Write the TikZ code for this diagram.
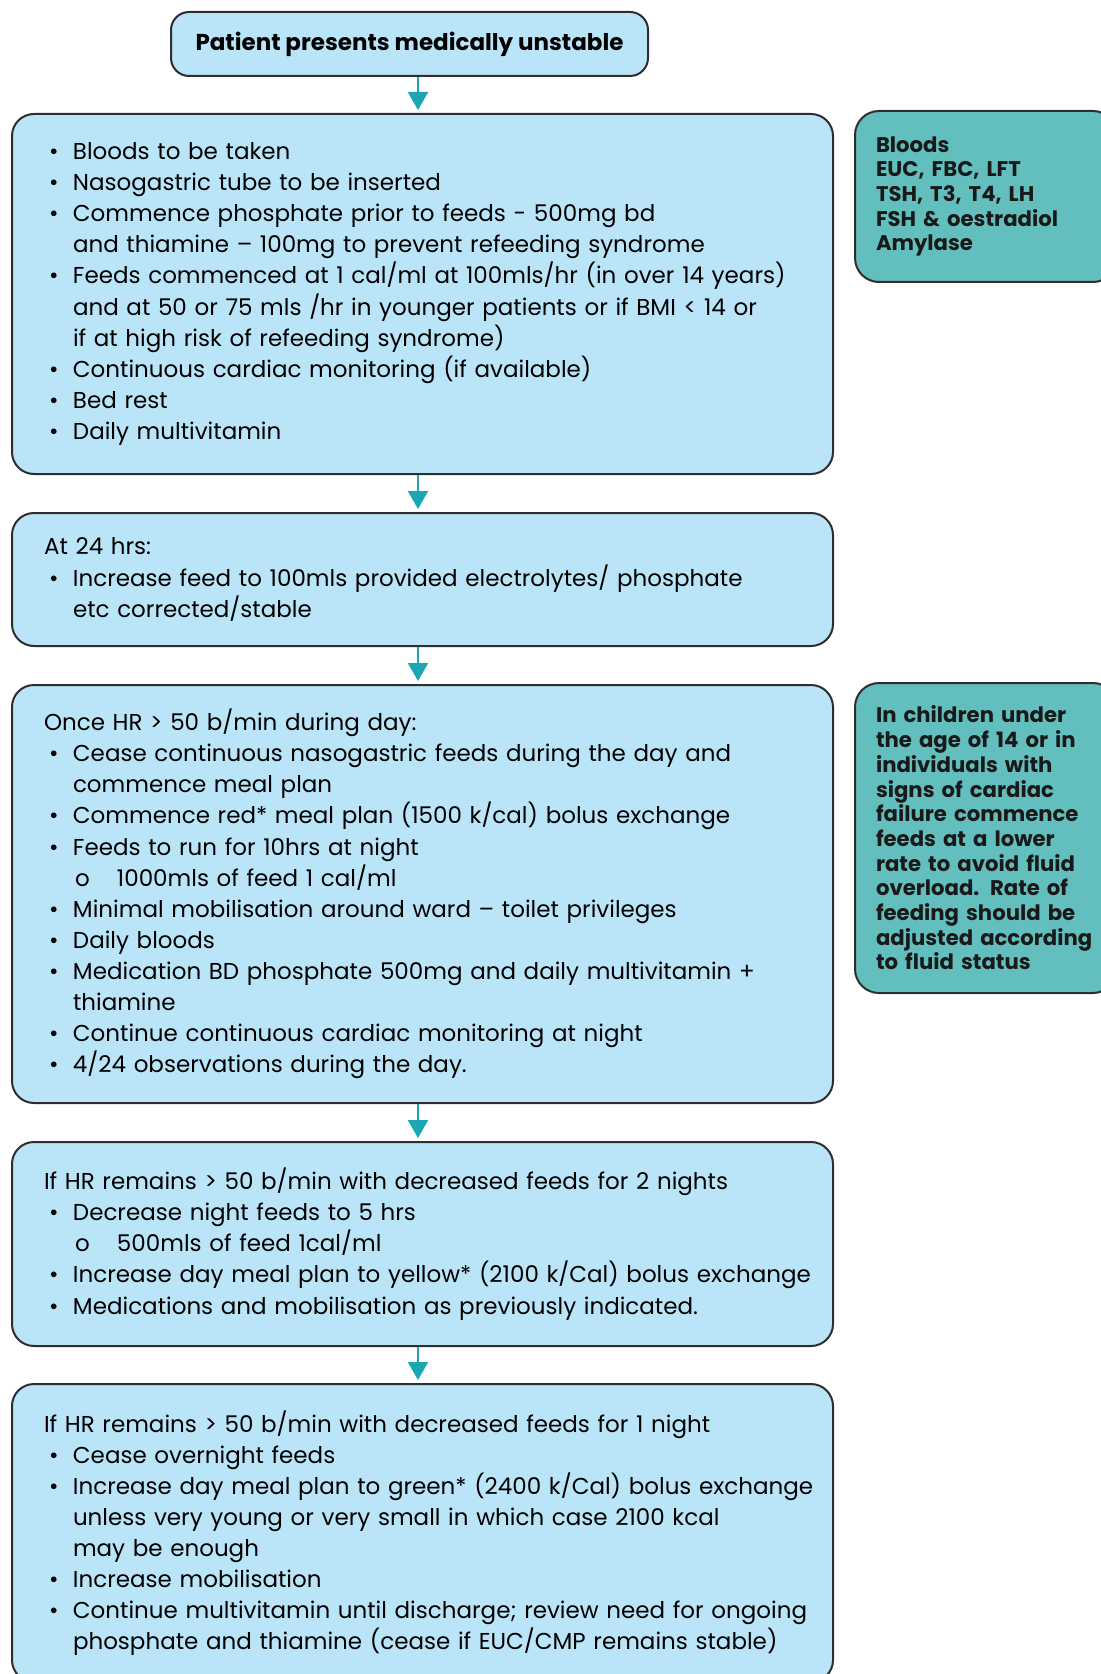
\documentclass[tikz,border=0pt]{standalone}
\usepackage{fontspec}
\setmainfont{Poppins}
\usetikzlibrary{arrows.meta}
\definecolor{boxblue}{HTML}{BAE5F8}
\definecolor{sideteal}{HTML}{63BFBE}
\definecolor{flowteal}{HTML}{1AA6B3}
\definecolor{edge}{HTML}{2E2E2E}
\newcommand{\hd}{\hspace*{8pt}}
\newcommand{\bu}{\hspace*{10.5pt}\makebox[12pt][l]{\textbullet}}
\newcommand{\ind}{\hspace*{22.5pt}}
\newcommand{\sub}{\hspace*{23.5pt}\makebox[21pt][l]{o}}
\begin{document}
\begin{tikzpicture}[x=0.5pt, y=-0.5pt,
    mainbox/.style={draw=edge, line width=1pt, fill=boxblue, rounded corners=11pt,
      text width=394.5pt, inner xsep=8pt, align=left,
      font=\fontsize{11.5}{15.55}\selectfont},
    sidebox/.style={draw=edge, line width=1pt, fill=sideteal, rounded corners=12pt,
      text width=110pt, inner xsep=10.5pt, align=left, text=black!90,
      font=\bfseries\fontsize{10.6}{12.35}\selectfont},
    flow/.style={draw=flowteal, line width=1pt, -{Triangle[length=9pt,width=10pt]}, shorten >=1.5pt}]
    \useasboundingbox (0,0) rectangle (1100,1674);
    \coordinate (ax) at (418,0);
    \node[draw=edge, line width=1pt, fill=boxblue, rounded corners=9pt, minimum width=238.5pt,
      minimum height=32pt, font=\bfseries\fontsize{11.5}{14}\selectfont] (start) at (409.5,44)
      {Patient presents medically unstable};
    \node[mainbox, minimum height=180pt] (first) at (422.5,294) {%
      \bu Bloods to be taken\\
      \bu Nasogastric tube to be inserted\\
      \bu Commence phosphate prior to feeds - 500mg bd\\
      \ind and thiamine – 100mg to prevent refeeding syndrome\\
      \bu Feeds commenced at 1 cal/ml at 100mls/hr (in over 14 years)\\
      \ind and at 50 or 75 mls /hr in younger patients or if BMI < 14 or\\
      \ind if at high risk of refeeding syndrome)\\
      \bu Continuous cardiac monitoring (if available)\\
      \bu Bed rest\\
      \bu Daily multivitamin};
    \node[mainbox, minimum height=66.5pt] (day1) at (422.5,579.5) {%
      \hd At 24 hrs:\\
      \bu Increase feed to 100mls provided electrolytes/ phosphate\\
      \ind etc corrected/stable};
    \node[mainbox, minimum height=209pt] (hrok) at (422.5,894) {%
      \hd Once HR > 50 b/min during day:\\
      \bu Cease continuous nasogastric feeds during the day and\\
      \ind commence meal plan\\
      \bu Commence red* meal plan (1500 k/cal) bolus exchange\\
      \bu Feeds to run for 10hrs at night\\
      \sub 1000mls of feed 1 cal/ml\\
      \bu Minimal mobilisation around ward – toilet privileges\\
      \bu Daily bloods\\
      \bu Medication BD phosphate 500mg and daily multivitamin +\\
      \ind thiamine\\
      \bu Continue continuous cardiac monitoring at night\\
      \bu 4/24 observations during the day.};
    \node[mainbox, minimum height=102pt] (twonights) at (422.5,1244) {%
      \hd If HR remains > 50 b/min with decreased feeds for 2 nights\\
      \bu Decrease night feeds to 5 hrs\\
      \sub 500mls of feed 1cal/ml\\
      \bu Increase day meal plan to yellow* (2100 k/Cal) bolus exchange\\
      \bu Medications and mobilisation as previously indicated.};
    \node[mainbox, minimum height=149pt] (onenight) at (422.5,1533) {%
      \hd If HR remains > 50 b/min with decreased feeds for 1 night\\
      \bu Cease overnight feeds\\
      \bu Increase day meal plan to green* (2400 k/Cal) bolus exchange\\
      \ind unless very young or very small in which case 2100 kcal\\
      \ind may be enough\\
      \bu Increase mobilisation\\
      \bu Continue multivitamin until discharge; review need for ongoing\\
      \ind phosphate and thiamine (cease if EUC/CMP remains stable)};
    % notes on the right
    \node[sidebox, minimum height=85.5pt] (bloods) at (986,196.5) {%
      Bloods\\ EUC, FBC, LFT\\ TSH, T3, T4, LH\\ FSH \& oestradiol\\ Amylase};
    \node[sidebox, minimum height=155pt] (children) at (986,838) {%
      In children under\\ the age of 14 or in\\ individuals with\\ signs of cardiac\\
      failure commence\\ feeds at a lower\\ rate to avoid fluid\\ overload. Rate of\\
      feeding should be\\ adjusted according\\ to fluid status};
    \draw[flow] (start.south -| ax) -- (first.north -| ax);
    \draw[flow] (first.south -| ax) -- (day1.north -| ax);
    \draw[flow] (day1.south -| ax) -- (hrok.north -| ax);
    \draw[flow] (hrok.south -| ax) -- (twonights.north -| ax);
    \draw[flow] (twonights.south -| ax) -- (onenight.north -| ax);
\end{tikzpicture}
\end{document}
